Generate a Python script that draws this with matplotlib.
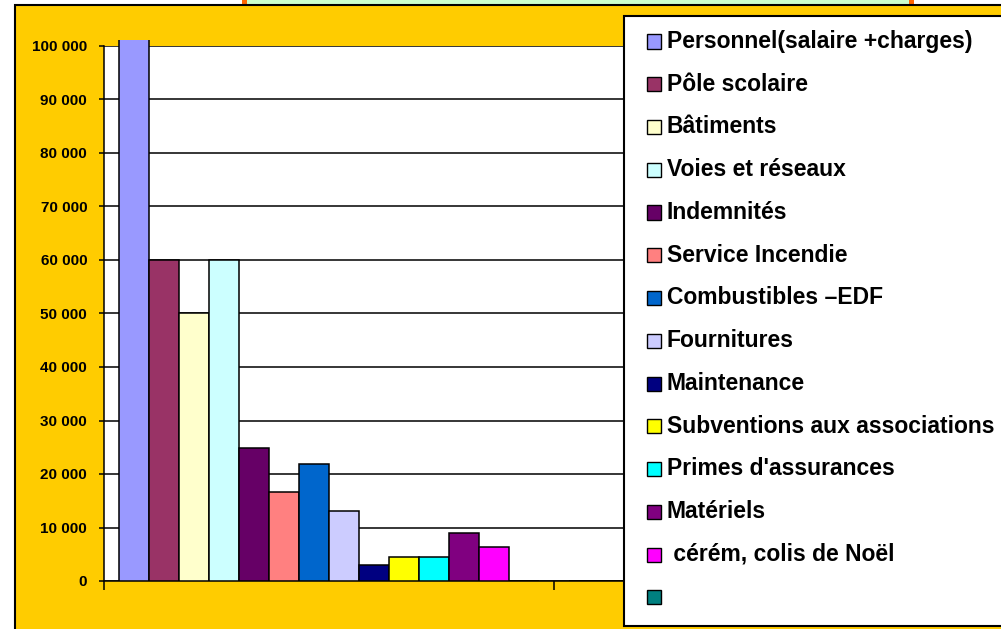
import matplotlib
matplotlib.use("Agg")
import matplotlib.pyplot as plt
from matplotlib.patches import Rectangle
from matplotlib.transforms import Bbox, TransformedBbox
import numpy as np

plt.rcParams['font.family'] = ['Liberation Sans', 'DejaVu Sans']

# ---------------- data ----------------
categories = ["", ""]
series_names = [
    "Personnel(salaire +charges)", "Pôle scolaire", "Bâtiments",
    "Voies et réseaux", "Indemnités", "Service Incendie",
    "Combustibles –EDF", "Fournitures", "Maintenance",
    "Subventions aux associations", "Primes d'assurances", "Matériels",
    " cérém, colis de Noël", "",
]
values_cat1 = [101500, 60000, 50000, 60000, 24900, 16700, 21900,
               13000, 3000, 4500, 4500, 8900, 6400, 0]
values_cat2 = [0, 0, 0, 0, 0, 0, 0, 0, 0, 0, 0, 0, 0, 0]
series_colors = ["#9999FF", "#993366", "#FFFFCC", "#CCFFFF", "#660066",
                 "#FF8080", "#0066CC", "#CCCCFF", "#000080", "#FFFF00",
                 "#00FFFF", "#800080", "#FF00FF", "#008080"]
ytick_values = [0, 10000, 20000, 30000, 40000, 50000,
                60000, 70000, 80000, 90000, 100000]
ytick_labels = ["0", "10 000", "20 000", "30 000", "40 000", "50 000",
                "60 000", "70 000", "80 000", "90 000", "100 000"]

# ---------------- layout ----------------
W, H = 1001, 629
fig = plt.figure(figsize=(W / 100, H / 100), dpi=100, facecolor="white")


def fx(x):
    return x / W


def fy(y):
    return 1 - y / H


# title box (cut off at the top)
fig.add_artist(Rectangle((fx(243.5), fy(9)), (910.5 - 243.5) / W, 40 / H,
                         transform=fig.transFigure, facecolor="#CCFFCC",
                         edgecolor="#FF6600", linewidth=3.6, zorder=-6))
# chart area
fig.add_artist(Rectangle((fx(14.5), fy(645)), (1020 - 14.5) / W, (645 - 5) / H,
                         transform=fig.transFigure, facecolor="#FFCC00",
                         edgecolor="black", linewidth=1.5, zorder=-5))

ax = fig.add_axes([fx(104), fy(581), 900 / W, 535 / H])
ax.set_facecolor("white")
ax.set_xlim(-0.5, 1.5)
ax.set_ylim(0, 100000)

x = np.arange(len(categories))
w = 30 / 450
clip = TransformedBbox(Bbox([[0, 0], [1, 1 + 6 / 535]]), ax.transAxes)
n = len(series_names)
for i in range(n):
    vals = [values_cat1[i], values_cat2[i]]
    bars = ax.bar(x + (i - (n - 1) / 2) * w, vals, width=w,
                  color=series_colors[i], edgecolor="black",
                  linewidth=1.1, zorder=3)
    for b in bars:
        b.set_clip_path(None)
        b.set_clip_box(clip)

ax.set_yticks(ytick_values, ytick_labels)
for lab in ax.get_yticklabels():
    lab.set_fontweight("bold")
ax.tick_params(axis="y", length=3.6, width=1.1, pad=8.5, labelsize=11,
               color="black")
ax.set_xticks([-0.5, 0.5, 1.5], ["", "", ""])
ax.tick_params(axis="x", length=6.5, width=1.1, color="black")
ax.yaxis.grid(True, color="black", linewidth=1.1)
ax.set_axisbelow(True)
for s in ["top", "right"]:
    ax.spines[s].set_visible(False)
for s in ["left", "bottom"]:
    ax.spines[s].set_color("black")
    ax.spines[s].set_linewidth(1.1)

# ---------------- legend ----------------
fig.add_artist(Rectangle((fx(623.5), fy(626)), (1020 - 623.5) / W, (626 - 15.5) / H,
                         transform=fig.transFigure, facecolor="white",
                         edgecolor="black", linewidth=1.5, zorder=10))
for i in range(n):
    yc = 41.5 + 42.75 * i
    fig.add_artist(Rectangle((fx(646.5), fy(yc + 7)), 14 / W, 14 / H,
                             transform=fig.transFigure,
                             facecolor=series_colors[i], edgecolor="black",
                             linewidth=1.0, zorder=11))
    fig.text(fx(667), fy(yc + 6.3), series_names[i], fontsize=16.5,
             fontweight="bold", ha="left", va="baseline", zorder=12)

fig.savefig("out.png", dpi=100, facecolor="white")
